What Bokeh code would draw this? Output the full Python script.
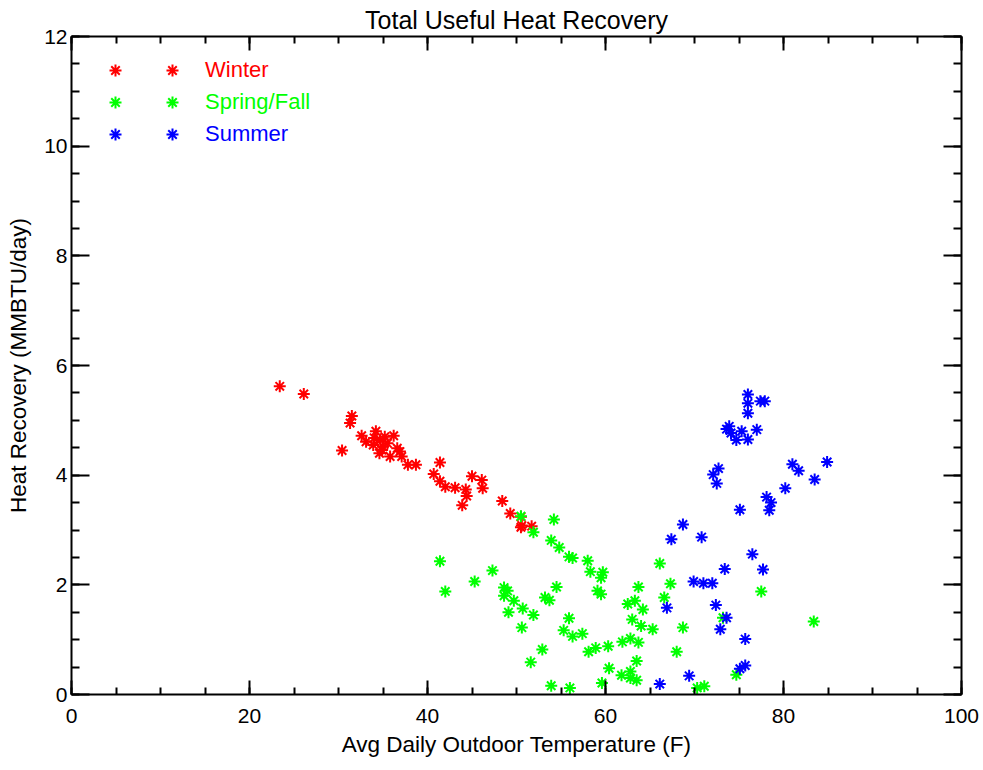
from bokeh.plotting import figure
from bokeh.models import (Range1d, LinearAxis, SingleIntervalTicker, Legend,
                          LegendItem, ColumnDataSource)
from bokeh.embed import file_html
from bokeh.resources import INLINE

# ---------------- data ----------------
TITLE = "Total Useful Heat Recovery"
X_LABEL = "Avg Daily Outdoor Temperature (F)"
Y_LABEL = "Heat Recovery (MMBTU/day)"
SEASONS = ["Winter", "Spring/Fall", "Summer"]
COLORS = ["#ff0000", "#00ff00", "#0000ff"]

winter_temp = [23.4, 26.1, 31.5, 31.3, 30.4, 32.6, 33.1, 34.2, 34.7, 35.2,
               33.9, 34.9, 34.6, 36.2, 36.6, 35.8, 37.1, 36.9, 37.8, 38.7,
               41.4, 40.7, 41.4, 42.0, 43.1, 44.3, 44.4, 43.9, 45.0, 46.1,
               46.2, 48.4, 49.3, 50.5, 50.6, 51.7, 50.5, 35.5, 34.0, 35.0]
winter_heat = [5.62, 5.48, 5.08, 4.95, 4.45, 4.72, 4.61, 4.80, 4.64, 4.70,
               4.55, 4.46, 4.40, 4.72, 4.49, 4.34, 4.34, 4.43, 4.19, 4.19,
               4.23, 4.02, 3.89, 3.79, 3.77, 3.74, 3.62, 3.45, 3.98, 3.91,
               3.76, 3.53, 3.30, 3.24, 3.08, 3.07, 3.05, 4.58, 4.68, 4.52]

spring_temp = [54.2, 51.9, 50.5, 53.9, 54.8, 55.9, 56.3, 58.0, 58.3, 59.5,
               59.7, 41.4, 42.0, 45.3, 47.3, 48.6, 49.0, 48.6, 49.7, 49.1,
               50.7, 51.9, 54.5, 53.2, 53.7, 50.6, 52.9, 51.6, 53.9, 56.0,
               55.9, 55.3, 56.3, 57.4, 58.1, 58.9, 59.1, 59.5, 60.3, 60.4,
               59.6, 61.9, 62.8, 63.7, 62.5, 63.3, 64.2, 63.0, 64.0, 65.3,
               63.7, 66.1, 67.3, 66.6, 68.7, 68.0, 61.8, 62.8, 63.5, 62.8,
               63.5, 70.3, 77.5, 73.2, 83.4, 74.7, 71.1]
spring_heat = [3.19, 2.96, 3.25, 2.81, 2.68, 2.51, 2.49, 2.44, 2.24, 2.13,
               2.23, 2.43, 1.88, 2.06, 2.26, 1.95, 1.89, 1.80, 1.71, 1.50,
               1.57, 1.45, 1.96, 1.77, 1.72, 1.22, 0.82, 0.59, 0.16, 0.12,
               1.39, 1.17, 1.06, 1.11, 0.78, 0.85, 1.89, 1.83, 0.88, 0.48,
               0.21, 0.96, 1.02, 0.95, 1.65, 1.71, 1.55, 1.37, 1.25, 1.19,
               1.96, 2.39, 2.02, 1.77, 1.22, 0.78, 0.35, 0.42, 0.61, 0.30,
               0.26, 0.12, 1.88, 1.40, 1.33, 0.36, 0.15]

summer_temp = [76.0, 76.0, 76.0, 77.4, 77.9, 73.9, 74.1, 75.3, 74.7, 76.0,
               77.0, 73.6, 72.7, 72.1, 72.5, 81.0, 81.7, 84.9, 83.5, 80.2,
               78.1, 78.6, 78.4, 75.1, 68.7, 67.4, 70.8, 76.5, 73.4, 77.7,
               69.9, 71.0, 72.0, 66.9, 72.4, 73.6, 72.9, 75.7, 75.7, 75.1,
               69.4, 66.1]
summer_heat = [5.47, 5.31, 5.13, 5.35, 5.35, 4.89, 4.77, 4.80, 4.64, 4.65,
               4.83, 4.84, 4.12, 4.01, 3.85, 4.20, 4.08, 4.24, 3.92, 3.76,
               3.60, 3.50, 3.36, 3.37, 3.10, 2.83, 2.87, 2.56, 2.29, 2.28,
               2.06, 2.03, 2.03, 1.58, 1.63, 1.40, 1.19, 1.01, 0.53, 0.47,
               0.34, 0.19]

X_TICK_STEP = 20
Y_TICK_STEP = 2

# ---------------- figure ----------------
FONT = "Liberation Sans"

p = figure(width=983, height=770, x_range=Range1d(0, 100), y_range=Range1d(0, 12),
           output_backend="svg", toolbar_location=None, title=TITLE,
           min_border_left=71, min_border_right=22, min_border_top=36,
           min_border_bottom=76)
p.outline_line_color = None
p.xgrid.visible = False
p.ygrid.visible = False
p.background_fill_color = "white"
p.border_fill_color = "white"

p.title.text_font = FONT
p.title.text_font_size = "25px"
p.title.text_font_style = "normal"
p.title.text_color = "black"
p.title.align = "center"
p.title.standoff = 5
p.title.offset = 0


def style_axis(ax, step, major_len, minor_len, labels=True):
    ax.ticker = SingleIntervalTicker(interval=step, num_minor_ticks=4)
    ax.axis_line_width = 2
    ax.axis_line_color = "black"
    ax.major_tick_line_width = 2
    ax.minor_tick_line_width = 2
    ax.major_tick_in = major_len
    ax.major_tick_out = 0
    ax.minor_tick_in = minor_len
    ax.minor_tick_out = 0
    ax.major_label_text_font = FONT
    ax.axis_label_text_font = FONT
    ax.axis_label_text_font_style = "normal"
    ax.axis_label_text_color = "black"
    if labels:
        ax.major_label_text_color = "black"
        ax.major_label_text_font_size = "21px"
        ax.axis_label_text_font_size = "22.5px"
    else:
        # mirrored tick axis (top / right) without labels
        ax.major_label_text_color = None
        ax.major_label_text_font_size = "1px"
        ax.major_label_standoff = 0


xb = p.xaxis[0]
yl = p.yaxis[0]
style_axis(xb, X_TICK_STEP, 14, 7)
style_axis(yl, Y_TICK_STEP, 18, 8)
xb.axis_label = X_LABEL
yl.axis_label = Y_LABEL
xb.major_label_standoff = 14
xb.axis_label_standoff = 6
yl.major_label_standoff = 4
yl.axis_label_standoff = 10

xt = LinearAxis()
yr = LinearAxis()
style_axis(xt, X_TICK_STEP, 14, 7, labels=False)
style_axis(yr, Y_TICK_STEP, 18, 8, labels=False)
p.add_layout(xt, "above")
p.add_layout(yr, "right")

renderers = []
for temps, heats, color in [(winter_temp, winter_heat, COLORS[0]),
                            (spring_temp, spring_heat, COLORS[1]),
                            (summer_temp, summer_heat, COLORS[2])]:
    src = ColumnDataSource(dict(x=temps, y=heats))
    r = p.scatter(x="x", y="y", source=src, marker="asterisk", size=12,
                  line_color=color, line_width=2)
    renderers.append(r)

# IDL-style legend: two symbols then coloured text
leg_syms = Legend(items=[LegendItem(label=" ", renderers=[r]) for r in renderers],
                  location=(29, 545), glyph_width=30, glyph_height=30, spacing=2,
                  padding=0, margin=0, border_line_color=None,
                  background_fill_alpha=0, label_text_font_size="1px",
                  label_text_color=None, label_width=0, label_standoff=0)
p.add_layout(leg_syms)

for r, name, color, ypos in zip(renderers, SEASONS, COLORS, [609, 577, 545]):
    leg = Legend(items=[LegendItem(label=name, renderers=[r])],
                 location=(86, ypos), glyph_width=30, glyph_height=30,
                 padding=0, margin=0, label_standoff=18,
                 label_text_color=color, label_text_font=FONT,
                 label_text_font_size="22px", border_line_color=None,
                 background_fill_alpha=0)
    p.add_layout(leg)

open("out.html", "w").write(file_html(p, INLINE))
